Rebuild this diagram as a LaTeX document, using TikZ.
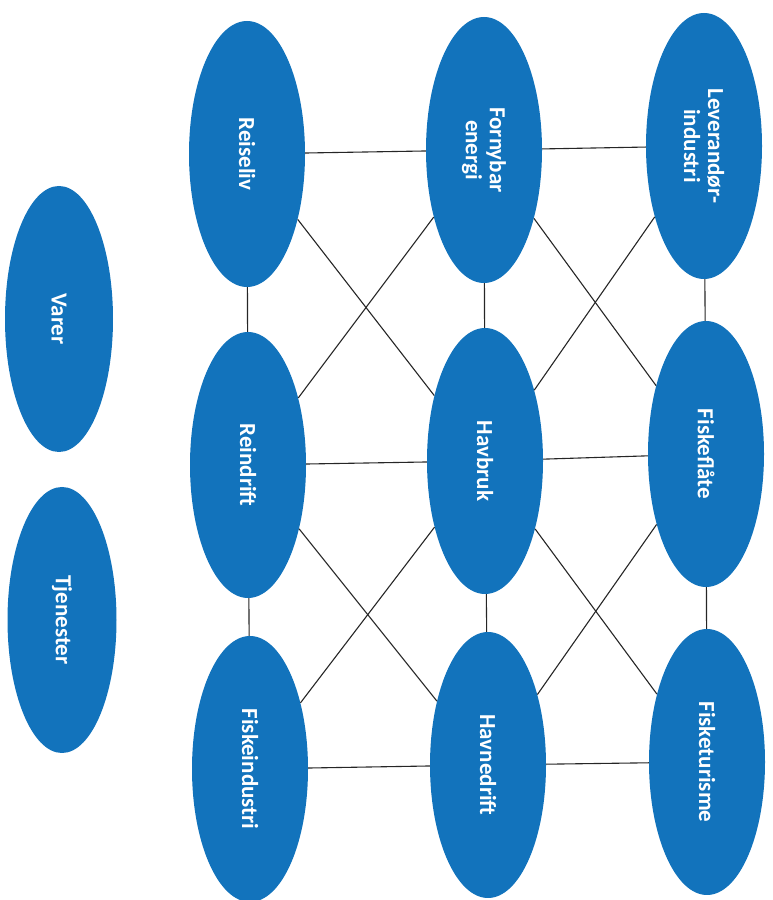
\documentclass[tikz,border=0pt]{standalone}
\usepackage{fontspec}
\setmainfont{Carlito}
\usetikzlibrary{shapes.geometric}
\definecolor{ovalblue}{RGB}{18,115,188}
\tikzset{
  oval/.style={ellipse, fill=ovalblue, draw=none, rotate=-90, inner sep=0pt,
    minimum width=266pt, minimum height=116pt, text=white, align=center,
    font=\fontsize{23}{24}\selectfont\bfseries},
  link/.style={draw=black!85, line width=1.1pt}
}
\begin{document}
\begin{tikzpicture}[x=1pt,y=1pt]
\useasboundingbox (0,0) rectangle (773,900);
\node[oval, minimum height=108pt] (varer) at (59,581) {Varer};
\node[oval, minimum height=109pt] (tjen) at (62,280) {Tjenester};
\node[oval] (reis) at (247,746) {Reiseliv};
\node[oval] (forn) at (484,750) {Fornybar\\energi};
\node[oval] (lev) at (704,754) {Leverandør-\\industri};
\node[oval] (rein) at (248,435) {Reindrift};
\node[oval] (havb) at (485,439) {Havbruk};
\node[oval] (ffl) at (706,446) {Fiskeflåte};
\node[oval] (find) at (250,131) {Fiskeindustri};
\node[oval] (havn) at (488,135) {Havnedrift};
\node[oval] (ftur) at (707,138) {Fisketurisme};
% horizontal
\draw[link] (reis) -- (forn);
\draw[link] (forn) -- (lev);
\draw[link] (rein) -- (havb);
\draw[link] (havb) -- (ffl);
\draw[link] (find) -- (havn);
\draw[link] (havn) -- (ftur);
% vertical
\draw[link] (reis) -- (rein);
\draw[link] (rein) -- (find);
\draw[link] (forn) -- (havb);
\draw[link] (havb) -- (havn);
\draw[link] (lev) -- (ffl);
\draw[link] (ffl) -- (ftur);
% diagonals
\draw[link] (reis) -- (havb);
\draw[link] (forn) -- (rein);
\draw[link] (forn) -- (ffl);
\draw[link] (lev) -- (havb);
\draw[link] (rein) -- (havn);
\draw[link] (havb) -- (find);
\draw[link] (havb) -- (ftur);
\draw[link] (ffl) -- (havn);
\end{tikzpicture}
\end{document}
